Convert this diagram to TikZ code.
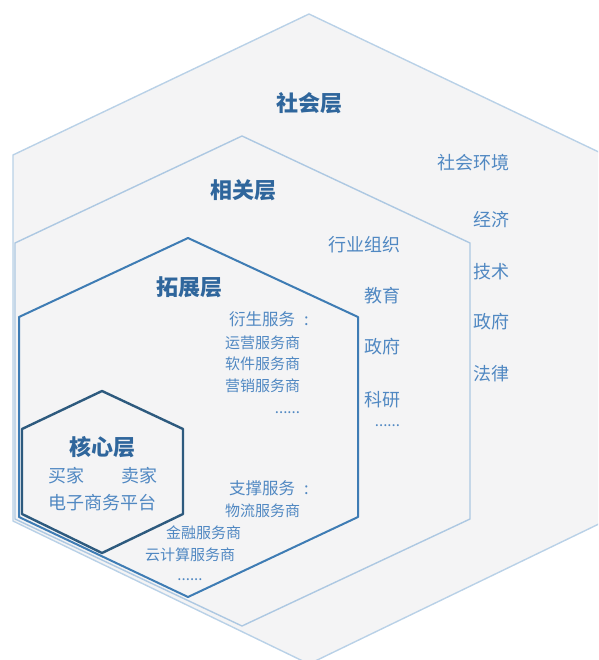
\documentclass[tikz,border=0pt]{standalone}
\usepackage{fontspec}
\setmainfont{Noto Sans CJK SC}
\usepackage{tikz}

\definecolor{hexfill}{HTML}{F4F4F5}
\definecolor{paleline}{HTML}{B9D1E7}
\definecolor{midline}{HTML}{3E7CB4}
\definecolor{coreline}{HTML}{2D5A7E}
\definecolor{titleblue}{HTML}{2F669C}
\definecolor{itemblue}{HTML}{5088C2}

\begin{document}
\begin{tikzpicture}[x=1pt, y=-1pt]
    \tikzstyle{every node} = [inner sep=0pt, outer sep=0pt]
    \tikzstyle{layer} = [fill=hexfill, line join=round]
    \tikzstyle{title} = [text=titleblue, font=\fontsize{22}{22}\selectfont\bfseries]
    \tikzstyle{item} = [text=itemblue, font=\fontsize{18}{18}\selectfont]
    \tikzstyle{subhead} = [text=itemblue, font=\fontsize{16.5}{16.5}\selectfont]
    \tikzstyle{subitem} = [text=itemblue, font=\fontsize{15}{15}\selectfont]
    \useasboundingbox (0,0) rectangle (598,660);
    \clip (0,0) rectangle (598,660);
    % layers, outside in
    \draw [layer, draw=paleline, line width=1.4pt]
      (309,14) -- (13,155) -- (13,521) -- (309,664) -- (605,521) -- (605,155) -- cycle;
    \draw [layer, draw=paleline!90!midline, line width=1.4pt]
      (242,136) -- (15,243) -- (15,519) -- (242,626) -- (470,519) -- (470,243) -- cycle;
    \draw [layer, draw=midline, line width=2pt]
      (188,238) -- (19,317) -- (19,517) -- (188,597) -- (358,517) -- (358,317) -- cycle;
    \draw [layer, draw=coreline, line width=2.4pt]
      (102,391) -- (22,429) -- (22,514) -- (102,553) -- (183,514) -- (183,429) -- cycle;
    % titles
    \node (shehui) [title] at (309,103) {社会层};
    \node (xiangguan) [title] at (243,190) {相关层};
    \node (tuozhan) [title] at (189,287) {拓展层};
    \node (hexin) [title] at (102,447) {核心层};
    % social layer
    \node (env) [item, anchor=east] at (509,163) {社会环境};
    \node (econ) [item, anchor=east] at (509,220) {经济};
    \node (tech) [item, anchor=east] at (509,272) {技术};
    \node (gov) [item, anchor=east] at (509,322) {政府};
    \node (law) [item, anchor=east] at (509,374) {法律};
    % related layer
    \node (org) [item, anchor=east] at (400,245) {行业组织};
    \node (edu) [item, anchor=east] at (400,296) {教育};
    \node (gov2) [item, anchor=east] at (400,347) {政府};
    \node (research) [item, anchor=east] at (400,400) {科研};
    \node (reldots) [subitem, anchor=east] at (400,426) {......};
    % extended layer
    \node (derived) [subhead, anchor=west] at (229,319) {衍生服务\hspace{0.55em}:};
    \node (ops) [subitem, anchor=east] at (300,343) {运营服务商};
    \node (soft) [subitem, anchor=east] at (300,364) {软件服务商};
    \node (market) [subitem, anchor=east] at (300,386) {营销服务商};
    \node (derdots) [subitem, anchor=east] at (300,413) {......};
    \node (support) [subhead, anchor=west] at (229,488) {支撑服务\hspace{0.55em}:};
    \node (logi) [subitem, anchor=east] at (300,511) {物流服务商};
    \node (fin) [subitem, anchor=east] at (241,533) {金融服务商};
    \node (cloud) [subitem, anchor=east] at (235,555) {云计算服务商};
    \node (supdots) [subitem] at (190,580) {......};
    % core layer
    \node (buyer) [item] at (66,476) {买家};
    \node (seller) [item] at (139,476) {卖家};
    \node (platform) [item] at (102,503) {电子商务平台};
\end{tikzpicture}
\end{document}
